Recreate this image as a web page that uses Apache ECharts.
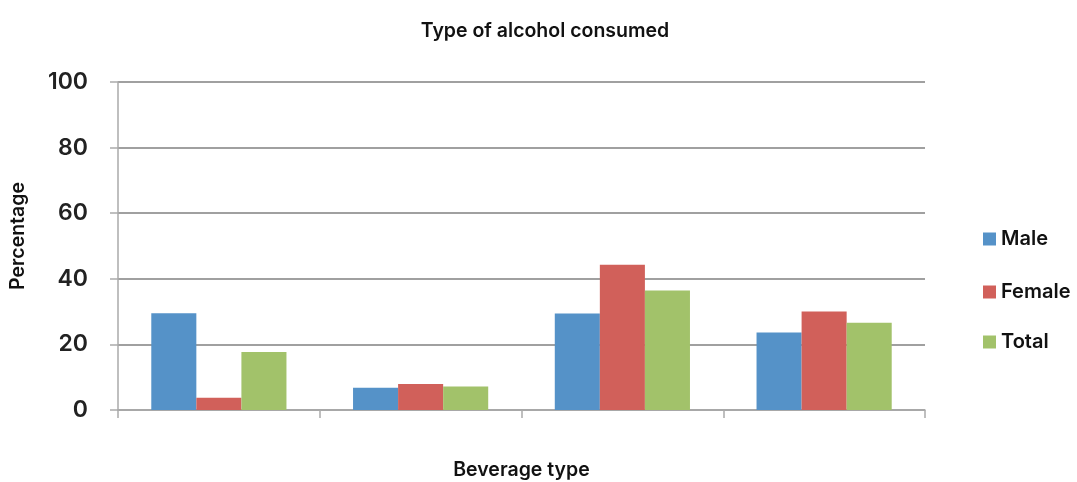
<!DOCTYPE html>
<html><head><meta charset="utf-8">
<script src="https://cdn.jsdelivr.net/npm/echarts@6/dist/echarts.min.js"></script>
<style>html,body{margin:0;padding:0;background:#fff}#c{width:1077px;height:482px}</style>
</head><body><div id="c"></div>
<script>
const categories = ['1', '2', '3', '4'];
const seriesNames = ['Male', 'Female', 'Total'];
const male = [29.5, 6.8, 29.4, 23.6];
const female = [3.7, 7.9, 44.3, 30.0];
const total = [17.7, 7.2, 36.4, 26.6];
const yTicks = [0, 20, 40, 60, 80, 100];

const chart = echarts.init(document.getElementById('c'));
const font = 'Inter, "Open Sans", sans-serif';
const txt = (size, extra) => Object.assign({ fontFamily: font, fontSize: size, fontWeight: 600, color: '#111' }, extra || {});
const legendBase = (name, top, textPad) => ({
  orient: 'vertical', left: 978, top: top, itemWidth: 13, itemHeight: 13, icon: 'rect',
  data: [name], textStyle: txt(20, { padding: textPad })
});
chart.setOption({
  animation: false,
  title: { text: 'Type of alcohol consumed', left: 540, textAlign: 'center', top: 16,
    textStyle: txt(19.5) },
  grid: { left: 118, right: 152, top: 82, bottom: 72, outerBoundsMode: 'none' },
  legend: [
    legendBase('Male', 224, [0, 0, 0, 0]),
    legendBase('Female', 277, [12, 0, 0, 0]),
    legendBase('Total', 327, [0, 0, 0, 0])
  ],
  xAxis: { type: 'category', data: categories, name: 'Beverage type', nameLocation: 'middle', nameGap: 50,
    nameTextStyle: txt(19.5),
    axisLine: { lineStyle: { color: '#aaa', width: 1.5 } },
    axisTick: { show: true, length: 8, lineStyle: { color: '#aaa', width: 1.5 } },
    axisLabel: { show: false } },
  yAxis: { type: 'value', min: yTicks[0], max: yTicks[yTicks.length - 1], interval: 20,
    name: 'Percentage', nameLocation: 'middle', nameGap: 90, nameRotate: 90,
    nameTextStyle: txt(19.5, { padding: [0, 0, 0, 20] }),
    axisLine: { show: true, lineStyle: { color: '#aaa', width: 1.5 } },
    axisTick: { show: true, length: 8, inside: false, lineStyle: { color: '#aaa', width: 1.5 } },
    splitLine: { lineStyle: { color: '#a0a0a0', width: 2 } },
    axisLabel: Object.assign({ margin: 30 }, txt(23, { color: '#222' })) },
  series: [
    { name: seriesNames[0], type: 'bar', data: male, itemStyle: { color: '#5592C8' }, barGap: '0%', barCategoryGap: '33%' },
    { name: seriesNames[1], type: 'bar', data: female, itemStyle: { color: '#D1605A' } },
    { name: seriesNames[2], type: 'bar', data: total, itemStyle: { color: '#A2C26A' } }
  ]
});
</script></body></html>
